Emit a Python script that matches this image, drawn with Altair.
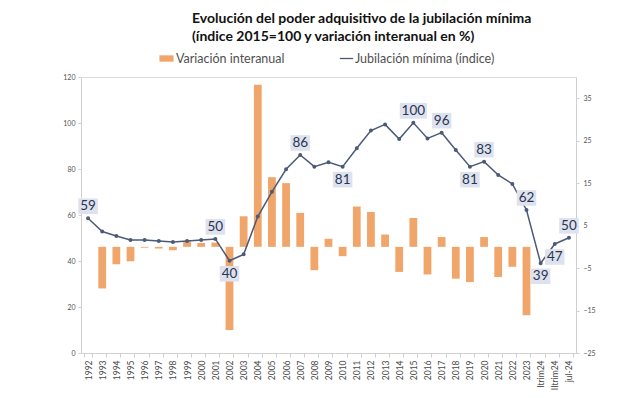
import altair as alt
import pandas as pd

cats = [str(y) for y in range(1992, 2024)] + ["Itrim24", "IItrim24", "jul-24"]

indice = [58.6, 52.8, 50.9, 49.1, 49.1, 48.7, 48.3, 48.7, 49.1, 49.6,
          40.1, 42.9, 59.3, 70.1, 79.9, 86.1, 81.0, 82.9, 81.0, 89.0,
          96.7, 99.4, 93.0, 100.1, 93.3, 95.8, 88.3, 81.0, 83.2, 77.4,
          73.5, 62.2, 39.0, 47.4, 50.1]

variacion = [None, -9.8, -4.1, -3.4, -0.2, -0.4, -0.8, 1.3, 0.9, 1.0,
             -19.6, 7.2, 38.2, 16.4, 15.0, 8.0, -5.5, 1.9, -2.2, 9.5,
             8.2, 2.9, -5.9, 6.8, -6.5, 2.3, -7.5, -8.3, 2.3, -7.1,
             -4.7, -16.1, None, None, None]

label_cats = ["1992", "2001", "2002", "2007", "2010", "2015", "2017", "2019",
              "2020", "2023", "Itrim24", "IItrim24", "jul-24"]
label_pos = ["above", "above", "below", "above", "below", "above", "above", "below",
             "above", "above", "below", "below", "above"]

BAR = "#F0A56B"
LINE = "#4C5A78"
BOX = "#DDE2EE"
TXT = "#2A3550"
FONT = "Lato"

S_BAR = "Variación interanual"
S_LINE = "Jubilación mínima (índice)"

df = pd.DataFrame({"cat": cats, "indice": indice, "variacion": variacion})
df["sbar"] = S_BAR
df["sline"] = S_LINE

lab = pd.DataFrame({"cat": label_cats, "pos": label_pos})
lab["indice"] = [indice[cats.index(c)] for c in label_cats]
lab["txt"] = [str(int(round(v))) for v in lab["indice"]]
lab["w"] = ["wide" if len(t) > 2 else "narrow" for t in lab["txt"]]

x_enc = alt.X(
    "cat:N", sort=cats, title=None,
    scale=alt.Scale(paddingInner=0.45, paddingOuter=0.225),
    axis=alt.Axis(labelAngle=-90, labelFontSize=8.5, labelColor="#4A4A4A", labelFont=FONT,
                  domainColor="#D0D0D0", tickColor="#D0D0D0", tickSize=4,
                  tickBand="extent", labelPadding=3),
)

left_axis = alt.Axis(values=[0, 20, 40, 60, 80, 100, 120], labelFontSize=7, labelColor="#555555",
                     labelFont=FONT, domainColor="#D0D0D0", tickColor="#D0D0D0", tickSize=3,
                     grid=False, orient="left", labelPadding=3)
right_axis = alt.Axis(values=[-25, -15, -5, 5, 15, 25, 35], labelFontSize=7, labelColor="#555555",
                      labelFont=FONT, domainColor="#D0D0D0", tickColor="#D0D0D0", tickSize=3,
                      grid=False, orient="right", labelPadding=4)

y_left = alt.Scale(domain=[0, 120], nice=False)
y_right = alt.Scale(domain=[-25, 40], nice=False)

bars = alt.Chart(df).mark_bar().encode(
    x=x_enc,
    y=alt.Y("variacion:Q", scale=y_right, axis=right_axis, title=None),
    fill=alt.Fill("sbar:N", scale=alt.Scale(domain=[S_BAR], range=[BAR]),
                  legend=alt.Legend(title=None, orient="none", legendX=78, legendY=-26,
                                    symbolType="M-1,-0.45L1,-0.45L1,0.45L-1,0.45Z",
                                    symbolSize=200, symbolStrokeWidth=0,
                                    labelFont=FONT, labelFontSize=12.5, labelColor="#505050",
                                    labelOffset=2)),
)

line = alt.Chart(df).mark_line(strokeWidth=1.5, point=alt.OverlayMarkDef(filled=True, size=4, color=LINE)).encode(
    x=x_enc,
    y=alt.Y("indice:Q", scale=y_left, axis=left_axis, title=None),
    stroke=alt.Stroke("sline:N", scale=alt.Scale(domain=[S_LINE], range=[LINE]),
                      legend=alt.Legend(title=None, orient="none", legendX=258, legendY=-26,
                                        symbolType="stroke", symbolSize=180, symbolStrokeWidth=1.3,
                                        labelFont=FONT, labelFontSize=12.5, labelColor="#505050",
                                        labelOffset=1)),
)

shape_scale = alt.Scale(domain=["narrow", "wide"],
                        range=["M-1,-0.8L1,-0.8L1,0.8L-1,0.8Z", "M-1,-0.58L1,-0.58L1,0.58L-1,0.58Z"])
size_scale = alt.Scale(domain=["narrow", "wide"], range=[380, 740])


def label_layers(pos, off):
    base = alt.Chart(lab).transform_filter(alt.datum.pos == pos)
    box = base.mark_point(filled=True, color=BOX, opacity=1, strokeWidth=0, yOffset=off).encode(
        x=x_enc,
        y=alt.Y("indice:Q", scale=y_left, axis=left_axis, title=None),
        shape=alt.Shape("w:N", scale=shape_scale, legend=None),
        size=alt.Size("w:N", scale=size_scale, legend=None),
    )
    txt = base.mark_text(font=FONT, fontSize=13.5, color=TXT, baseline="middle", yOffset=off).encode(
        x=x_enc,
        y=alt.Y("indice:Q", scale=y_left, axis=left_axis, title=None),
        text="txt:N",
    )
    return [box, txt]


inner = alt.layer(line, *label_layers("above", -12), *label_layers("below", 13))

chart = alt.layer(bars, inner).resolve_scale(
    y="independent", fill="independent", stroke="independent", shape="independent", size="independent"
).properties(
    width=495, height=276,
    padding={"left": 73, "top": 69, "right": 45, "bottom": 37},
    autosize=alt.AutoSizeParams(type="none"),
    title=alt.TitleParams(
        text=["Evolución del poder adquisitivo de la jubilación mínima",
              "(índice 2015=100 y variación interanual en %)"],
        anchor="start", frame="group", dx=111, offset=7,
        font=FONT, fontSize=14, fontWeight="bold", color="#111111", lineHeight=18,
    ),
).configure_view(stroke=None).configure(background="white")

chart.save("out.html", embed_options={"renderer": "svg", "actions": False})
